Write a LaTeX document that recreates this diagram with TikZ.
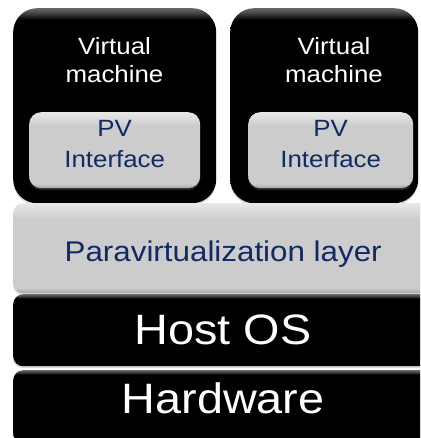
\documentclass[tikz,border=0pt]{standalone}
\usepackage{fontspec}
\setmainfont[FakeStretch=1.1]{Liberation Sans}
\usetikzlibrary{
  positioning,
  shadows,
}
\definecolor{pvnavy}{RGB}{18, 42, 100}
\definecolor{pvgray}{RGB}{204, 204, 204}
\definecolor{pvlight}{RGB}{232, 232, 232}
\definecolor{pvedge}{RGB}{165, 165, 165}
\pgfdeclareverticalshading{glossblack}{100bp}{color(0bp)=(black); color(72bp)=(black);
  color(74bp)=(black!70); color(75bp)=(black!60); color(100bp)=(black!60)}
\pgfdeclareverticalshading{glossgray}{100bp}{color(0bp)=(pvedge); color(25bp)=(pvedge);
  color(28bp)=(pvgray); color(66bp)=(pvgray); color(75bp)=(pvlight); color(100bp)=(pvlight)}
\tikzstyle{darkbox} = [
  shading=glossblack,
  drop shadow={opacity=0.3, shadow xshift=0pt, shadow yshift=-2pt},
  inner sep=0pt,
  anchor=north west,
  text=white,
]
\tikzstyle{lightbox} = [
  shading=glossgray,
  drop shadow={opacity=0.3, shadow xshift=0pt, shadow yshift=-2pt},
  inner sep=0pt,
  anchor=north west,
  text=pvnavy,
]

\begin{document}
\begin{tikzpicture}[x=1pt, y=-1pt,
    vmbox/.style={darkbox, rounded corners=24pt, minimum height=195pt},
    ifbox/.style={lightbox, rounded corners=12pt, minimum height=76pt, align=center,
                  text depth=12pt, font=\fontsize{23.5}{31}\selectfont},
    layer/.style={rounded corners=10pt, minimum width=420pt}]
      \useasboundingbox (0,0) rectangle (420,438);
      \clip (0,0) rectangle (420,438);

      \node [vmbox, minimum width=203pt] (vmA) at (13,8) {};
      \node [vmbox, minimum width=188pt] (vmB) at (230,8) {};
      \node [white, align=center, font=\fontsize{23.5}{28}\selectfont] (vmAname)
            at (114.5,60) {Virtual\\machine};
      \node [white, align=center, font=\fontsize{23.5}{28}\selectfont] (vmBname)
            at (334,60) {Virtual\\machine};

      \node [ifbox, minimum width=171pt] (pvA) at (29,112) {PV\\Interface};
      \node [ifbox, minimum width=165pt] (pvB) at (248,112) {PV\\Interface};

      \node [lightbox, layer, minimum height=90pt, text height=30pt, text depth=4pt,
             font=\fontsize{28.5}{34}\selectfont] (para) at (13,203)
            {Paravirtualization layer};

      \node [darkbox, layer, minimum height=72pt, font=\fontsize{42.5}{50}\selectfont]
            (host) at (13,294) {Host OS};

      \node [darkbox, layer, minimum height=73pt, text height=33pt, text depth=20pt,
             font=\fontsize{42.5}{50}\selectfont] (hw) at (13,370) {Hardware};
    \end{tikzpicture}
\end{document}
